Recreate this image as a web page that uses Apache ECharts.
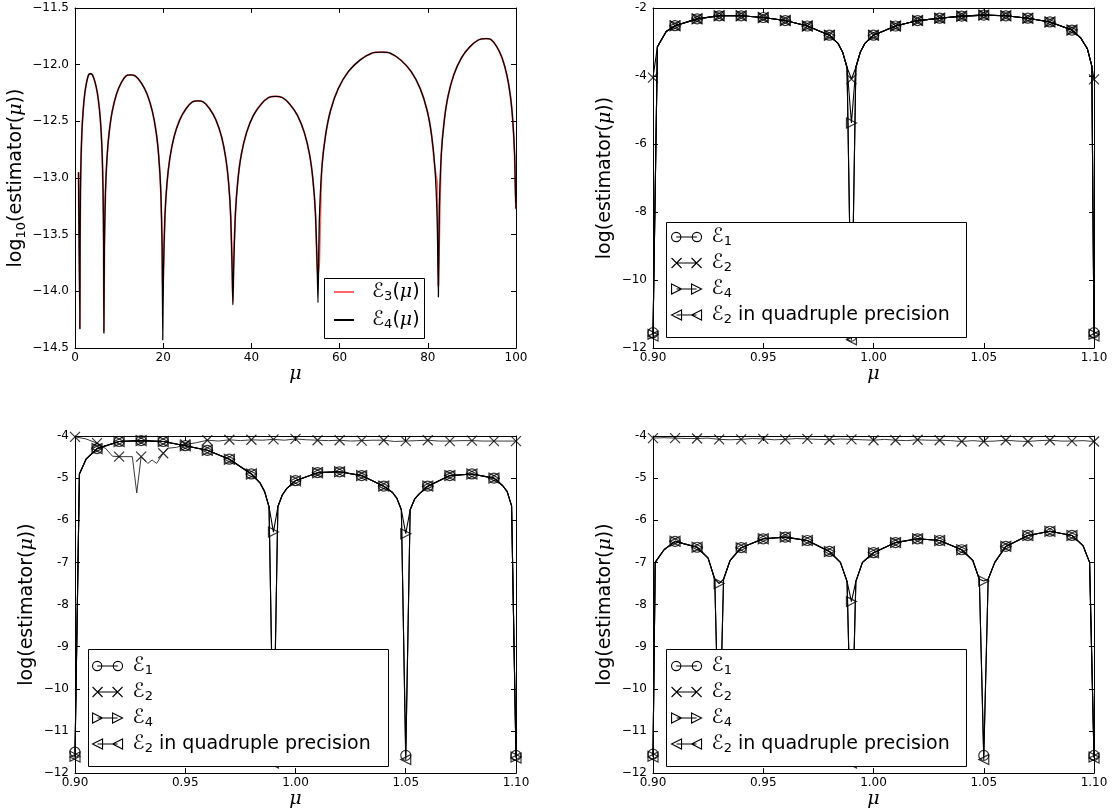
<!DOCTYPE html>
<html>
<head>
<meta charset="utf-8">
<script src="https://cdn.jsdelivr.net/npm/echarts@6/dist/echarts.min.js"></script>
<style>
  html, body { margin: 0; background: #fff; }
  #chart { width: 1112px; height: 810px; }
</style>
</head>
<body>
<div id="chart"></div>
<script>
// ---- plot 1 : log10 estimator over mu in [0,100]
const p1Mu = [0.8, 1.1,
  1.15,1.24,1.38,1.57,1.86,2.23,2.66,3.08,3.46,3.95,4.51,5.07,5.56,5.93,6.18,6.36,6.49, 6.55,
  6.67,6.91,7.26,7.74,8.45,9.41,10.48,11.55,12.5,13.68,15.02,16.35,17.53,18.42,19.01,19.46,19.75, 19.9,
  20.06,20.38,20.85,21.49,22.44,23.72,25.15,26.58,27.85,29.12,30.55,31.98,33.26,34.21,34.85,35.32,35.64, 35.8,
  35.99,36.38,36.96,37.73,38.89,40.43,42.17,43.91,45.45,46.99,48.73,50.47,52.01,53.17,53.94,54.52,54.91, 55.1,
  55.39,55.96,56.83,57.98,59.71,62.01,64.60,67.20,69.5,71.56,73.89,76.21,78.27,79.82,80.85,81.63,82.14, 82.4,
  82.62,83.05,83.71,84.58,85.89,87.63,89.59,91.56,93.3,94.39,95.61,96.84,97.92,98.74,99.28,99.69,99.96, 100];
const p1E4 = [-12.95, -14.33,
  -13.58,-13.11,-12.81,-12.59,-12.40,-12.25,-12.15,-12.09,-12.08,-12.09,-12.15,-12.25,-12.40,-12.59,-12.81,-13.11,-13.58, -14.37,
  -13.59,-13.12,-12.82,-12.60,-12.41,-12.26,-12.16,-12.10,-12.09,-12.10,-12.16,-12.26,-12.41,-12.60,-12.82,-13.12,-13.59, -14.43,
  -13.82,-13.35,-13.05,-12.83,-12.64,-12.49,-12.39,-12.33,-12.32,-12.33,-12.39,-12.49,-12.64,-12.83,-13.05,-13.35,-13.82, -14.12,
  -13.78,-13.31,-13.01,-12.79,-12.60,-12.45,-12.35,-12.29,-12.28,-12.29,-12.35,-12.45,-12.60,-12.79,-13.01,-13.31,-13.78, -14.10,
  -13.39,-12.92,-12.62,-12.40,-12.21,-12.06,-11.96,-11.90,-11.89,-11.90,-11.96,-12.06,-12.21,-12.40,-12.62,-12.92,-13.39, -14.05,
  -13.27,-12.80,-12.50,-12.28,-12.09,-11.94,-11.84,-11.78,-11.77,-11.78,-11.84,-11.94,-12.09,-12.28,-12.50,-12.80,-13.27, -13.10];
const p1E3 = [-12.95, -14.33,
  -13.58,-13.11,-12.81,-12.59,-12.40,-12.25,-12.15,-12.09,-12.08,-12.09,-12.15,-12.25,-12.40,-12.59,-12.81,-13.11,-13.58, -14.35,
  -13.59,-13.12,-12.82,-12.60,-12.41,-12.26,-12.16,-12.10,-12.09,-12.10,-12.16,-12.26,-12.41,-12.60,-12.82,-13.12,-13.59, -14.05,
  -13.82,-13.35,-13.05,-12.83,-12.64,-12.49,-12.39,-12.33,-12.32,-12.33,-12.39,-12.49,-12.64,-12.83,-13.05,-13.35,-13.82, -14.10,
  -13.70,-13.31,-13.01,-12.79,-12.60,-12.45,-12.35,-12.29,-12.28,-12.29,-12.35,-12.45,-12.60,-12.79,-13.01,-13.31,-13.78, -13.85,
  -13.75,-12.92,-12.62,-12.40,-12.21,-12.06,-11.96,-11.90,-11.89,-11.90,-11.96,-12.06,-12.21,-12.40,-12.62,-12.92,-13.05, -13.95,
  -13.50,-12.80,-12.50,-12.28,-12.09,-11.94,-11.84,-11.78,-11.77,-11.78,-11.84,-11.94,-12.09,-12.28,-12.50,-12.80,-13.27, -13.15];

// ---- plot 2
const p2Mu = [0.900,0.902,0.906,0.91,0.92,0.93,0.94,0.95,0.96,0.97,0.98,0.984,0.986,0.988,0.99,0.992,0.994,0.996,
  1.00,1.01,1.02,1.03,1.04,1.05,1.06,1.07,1.08,1.09,1.094,1.097,1.099,1.10];
const p2E1 = [-11.55,-3.14,-2.69,-2.52,-2.32,-2.23,-2.23,-2.28,-2.37,-2.53,-2.80,-3.05,-3.30,-3.75,-11.65,-3.75,-3.30,-3.05,
  -2.80,-2.53,-2.37,-2.30,-2.24,-2.21,-2.23,-2.30,-2.41,-2.65,-2.88,-3.20,-3.70,-11.55];
const p2E2 = [-4.05,-3.14,-2.69,-2.52,-2.32,-2.23,-2.23,-2.28,-2.37,-2.53,-2.80,-3.05,-3.30,-3.75,-4.09,-3.75,-3.30,-3.05,
  -2.80,-2.53,-2.37,-2.30,-2.24,-2.21,-2.23,-2.30,-2.41,-2.65,-2.88,-3.20,-3.70,-4.10];
const p2E4 = [-11.60,-3.14,-2.69,-2.52,-2.32,-2.23,-2.23,-2.28,-2.37,-2.53,-2.80,-3.05,-3.30,-3.75,-5.38,-3.75,-3.30,-3.05,
  -2.80,-2.53,-2.37,-2.30,-2.24,-2.21,-2.23,-2.30,-2.41,-2.65,-2.88,-3.20,-3.70,-11.60];
const p2Q = [-11.65,-3.14,-2.69,-2.52,-2.32,-2.23,-2.23,-2.28,-2.37,-2.53,-2.80,-3.05,-3.30,-3.75,-11.76,-3.75,-3.30,-3.05,
  -2.80,-2.53,-2.37,-2.30,-2.24,-2.21,-2.23,-2.30,-2.41,-2.65,-2.88,-3.20,-3.70,-11.65];

// ---- plot 3
const p3Mu = [0.900,0.902,0.905,0.91,0.92,0.93,0.94,0.95,0.96,0.97,0.98,0.984,0.986,0.988,0.99,0.992,0.994,0.996,
  1.00,1.01,1.02,1.03,1.04,1.044,1.046,1.048,1.05,1.052,1.054,1.056,1.06,1.07,1.08,1.09,1.094,1.096,1.098,1.10];
const p3E1 = [-11.50,-4.90,-4.55,-4.30,-4.13,-4.11,-4.13,-4.23,-4.34,-4.55,-4.90,-5.12,-5.32,-5.68,-11.60,-5.68,-5.40,-5.25,
  -5.06,-4.87,-4.85,-4.94,-5.19,-5.34,-5.48,-5.75,-11.58,-5.75,-5.50,-5.38,-5.19,-4.94,-4.90,-5.00,-5.18,-5.32,-5.66,-11.58];
const p3E4 = [-11.60,-4.90,-4.55,-4.30,-4.13,-4.11,-4.13,-4.23,-4.34,-4.55,-4.90,-5.12,-5.32,-5.68,-6.28,-5.68,-5.40,-5.25,
  -5.06,-4.87,-4.85,-4.94,-5.19,-5.34,-5.48,-5.75,-6.32,-5.75,-5.50,-5.38,-5.19,-4.94,-4.90,-5.00,-5.18,-5.32,-5.66,-11.62];
const p3Q = [-11.62,-4.90,-4.55,-4.30,-4.13,-4.11,-4.13,-4.23,-4.34,-4.55,-4.90,-5.12,-5.32,-5.68,-11.76,-5.68,-5.40,-5.25,
  -5.06,-4.87,-4.85,-4.94,-5.19,-5.34,-5.48,-5.75,-11.68,-5.75,-5.50,-5.38,-5.19,-4.94,-4.90,-5.00,-5.18,-5.32,-5.66,-11.64];
const p3E2Mu = [0.900,0.905,0.91,0.914,0.917,0.92,0.926,0.928,0.93,0.933,0.935,0.937,0.94,0.942,0.946,0.95,0.955,0.96,
  0.965,0.97,0.975,0.98,0.985,0.99,0.995,1.00,1.005,1.01,1.015,1.02,1.025,1.03,1.035,1.04,1.045,1.05,1.055,1.06,
  1.065,1.07,1.075,1.08,1.085,1.09,1.095,1.10];
const p3E2 = [-4.02,-4.07,-4.17,-4.30,-4.48,-4.49,-4.49,-5.35,-4.49,-4.65,-4.57,-4.65,-4.41,-4.29,-4.27,-4.20,-4.16,-4.10,
  -4.12,-4.09,-4.11,-4.09,-4.10,-4.08,-4.10,-4.07,-4.09,-4.10,-4.11,-4.10,-4.12,-4.11,-4.10,-4.10,-4.13,-4.12,-4.11,-4.10,
  -4.12,-4.12,-4.11,-4.11,-4.12,-4.12,-4.12,-4.12];

// ---- plot 4
const p4Mu = [0.900,0.901,0.905,0.91,0.92,0.925,0.928,0.93,0.932,0.935,0.94,0.95,0.96,0.97,0.98,0.985,0.988,0.99,0.992,0.995,
  1.00,1.01,1.02,1.03,1.04,1.045,1.048,1.05,1.052,1.055,1.06,1.07,1.08,1.09,1.095,1.098,1.10];
const p4E1 = [-11.55,-7.00,-6.70,-6.50,-6.64,-6.90,-7.40,-11.60,-7.40,-6.95,-6.65,-6.44,-6.40,-6.48,-6.74,-7.00,-7.45,-11.60,-7.45,-7.00,
  -6.77,-6.53,-6.44,-6.48,-6.70,-6.95,-7.40,-11.58,-7.40,-7.00,-6.62,-6.36,-6.26,-6.36,-6.60,-7.00,-11.58];
const p4E4 = [-11.60,-7.00,-6.70,-6.50,-6.64,-6.90,-7.40,-7.50,-7.40,-6.95,-6.65,-6.44,-6.40,-6.48,-6.74,-7.00,-7.45,-7.93,-7.45,-7.00,
  -6.77,-6.53,-6.44,-6.48,-6.70,-6.95,-7.40,-7.44,-7.40,-7.00,-6.62,-6.36,-6.26,-6.36,-6.60,-7.00,-11.62];
const p4Q = [-11.62,-7.00,-6.70,-6.50,-6.64,-6.90,-7.40,-11.70,-7.40,-6.95,-6.65,-6.44,-6.40,-6.48,-6.74,-7.00,-7.45,-11.76,-7.45,-7.00,
  -6.77,-6.53,-6.44,-6.48,-6.70,-6.95,-7.40,-11.68,-7.40,-7.00,-6.62,-6.36,-6.26,-6.36,-6.60,-7.00,-11.64];
const p4E2Mu = [0.900,0.905,0.91,0.915,0.92,0.925,0.93,0.935,0.94,0.945,0.95,0.955,0.96,0.965,0.97,0.975,0.98,0.985,0.99,0.995,
  1.00,1.005,1.01,1.015,1.02,1.025,1.03,1.035,1.04,1.045,1.05,1.055,1.06,1.065,1.07,1.075,1.08,1.085,1.09,1.095,1.10];
const p4E2 = [-4.05,-4.04,-4.05,-4.06,-4.06,-4.05,-4.08,-4.09,-4.08,-4.06,-4.07,-4.09,-4.08,-4.06,-4.07,-4.08,-4.09,-4.07,-4.08,-4.09,
  -4.10,-4.08,-4.10,-4.11,-4.09,-4.10,-4.10,-4.11,-4.13,-4.11,-4.13,-4.12,-4.10,-4.12,-4.13,-4.11,-4.10,-4.12,-4.12,-4.11,-4.13];

// ---------------------------------------------------------------
function pairs(xs, ys) { return xs.map((x, i) => [x, ys[i]]); }
// markers only every 0.01 (markevery)
function marks(xs, ys) {
  return pairs(xs, ys).filter(p => Math.abs(p[0] * 100 - Math.round(p[0] * 100)) < 1e-6);
}

const grids = [
  { left: 75, top: 8, width: 441, height: 340 },
  { left: 653, top: 8, width: 441, height: 340 },
  { left: 75, top: 436, width: 441, height: 340 },
  { left: 653, top: 436, width: 441, height: 340 }
];

const font = "DejaVu Sans";
const nameRich = {
  n: { fontSize: 19, fontFamily: font, color: "#000", lineHeight: 24 },
  s: { fontSize: 13, fontFamily: font, color: "#000", lineHeight: 14, verticalAlign: "bottom" },
  i: { fontSize: 19, fontFamily: "DejaVu Serif", fontStyle: "italic", color: "#000", lineHeight: 24 }
};

const fmtY1 = v => "\u2212" + Math.abs(v).toFixed(1);
const fmtY = v => (Math.abs(v) >= 10 ? "\u2212" : "-") + Math.abs(v);
const fmtMu = v => v.toFixed(2);

const xAxes = [], yAxes = [];
function addAxes(g, xr, yr, xfmt, yfmt, yName, yGap) {
  const line = { show: true, onZero: false, lineStyle: { color: "#000", width: 1 } };
  const tick = { show: true, inside: true, length: 5, lineStyle: { color: "#000" } };
  const lab = { color: "#000", fontSize: 12, fontFamily: font };
  xAxes.push({
    type: "value", gridIndex: g, position: "bottom", min: xr[0], max: xr[1], interval: xr[2],
    axisLine: line, axisTick: tick, splitLine: { show: false },
    axisLabel: Object.assign({ margin: 4, formatter: xfmt }, lab),
    name: "μ", nameLocation: "middle", nameGap: 14,
    nameTextStyle: { fontSize: 19, fontFamily: "DejaVu Serif", fontStyle: "italic", color: "#000" }
  });
  xAxes.push({
    type: "value", gridIndex: g, position: "top", min: xr[0], max: xr[1], interval: xr[2],
    axisLine: line, axisTick: tick, splitLine: { show: false }, axisLabel: { show: false }
  });
  yAxes.push({
    type: "value", gridIndex: g, position: "left", min: yr[0], max: yr[1], interval: yr[2],
    axisLine: line, axisTick: tick, splitLine: { show: false },
    axisLabel: Object.assign({ margin: 6, formatter: yfmt }, lab),
    name: yName, nameLocation: "middle", nameGap: yGap,
    nameTextStyle: { rich: nameRich }
  });
  yAxes.push({
    type: "value", gridIndex: g, position: "right", min: yr[0], max: yr[1], interval: yr[2],
    axisLine: line, axisTick: tick, splitLine: { show: false }, axisLabel: { show: false }
  });
}

addAxes(0, [0, 100, 20], [-14.5, -11.5, 0.5], v => String(v), fmtY1,
  "{n|log}{s|10}{n|(estimator(}{i|μ}{n|))}", 46);
addAxes(1, [0.9, 1.1, 0.05], [-12, -2, 2], fmtMu, fmtY, "{n|log(estimator(}{i|μ}{n|))}", 36);
addAxes(2, [0.9, 1.1, 0.05], [-12, -4, 1], fmtMu, fmtY, "{n|log(estimator(}{i|μ}{n|))}", 36);
addAxes(3, [0.9, 1.1, 0.05], [-12, -4, 1], fmtMu, fmtY, "{n|log(estimator(}{i|μ}{n|))}", 36);

const syms = {
  E1: "circle",
  E2: "path://M0,0L10,10M10,0L0,10",
  E4: "path://M0,0L10,5L0,10Z",
  E2q: "path://M10,0L0,5L10,10Z"
};
const icons = {
  E1: "path://M0.5,5A4.5,4.5,0,1,1,9.5,5A4.5,4.5,0,1,1,0.5,5ZM5,5L25,5M20.5,5A4.5,4.5,0,1,1,29.5,5A4.5,4.5,0,1,1,20.5,5Z",
  E2: "path://M0,0L10,10M10,0L0,10M5,5L25,5M20,0L30,10M30,0L20,10",
  E4: "path://M0,0L10,5L0,10ZM5,5L25,5M20,0L30,5L20,10Z",
  E2q: "path://M10,0L0,5L10,10ZM5,5L25,5M30,0L20,5L30,10Z"
};

const series = [];
series.push({
  type: "line", name: "E3c", xAxisIndex: 0, yAxisIndex: 0, data: pairs(p1Mu, p1E3),
  symbol: "none", showSymbol: false, animation: false, smooth: 0.2,
  itemStyle: { color: "rgba(255,0,0,0.6)" }, lineStyle: { color: "rgba(255,0,0,0.6)", width: 1.8 }
});
series.push({
  type: "line", name: "E4c", xAxisIndex: 0, yAxisIndex: 0, data: pairs(p1Mu, p1E4),
  symbol: "none", showSymbol: false, animation: false, smooth: 0.2,
  itemStyle: { color: "#000" }, lineStyle: { color: "#000", width: 1.3 }
});

function addPlot(g, sets) {
  sets.forEach(s => {
    series.push({
      type: "line", name: s.name, xAxisIndex: 2 * g, yAxisIndex: 2 * g, data: pairs(s.xs, s.ys),
      symbol: "none", showSymbol: false, animation: false, z: 2,
      itemStyle: { color: "#000" }, lineStyle: { color: s.c || "#000", width: s.w || 1.1 }
    });
  });
  sets.forEach(s => {
    series.push({
      type: "scatter", name: s.name, xAxisIndex: 2 * g, yAxisIndex: 2 * g, data: marks(s.xs, s.ys),
      symbol: syms[s.name], symbolSize: 10, animation: false, z: 3,
      itemStyle: { color: "rgba(0,0,0,0)", borderColor: "#000", borderWidth: 1.2 }
    });
  });
}

addPlot(1, [
  { name: "E1", xs: p2Mu, ys: p2E1 },
  { name: "E2", xs: p2Mu, ys: p2E2 },
  { name: "E4", xs: p2Mu, ys: p2E4 },
  { name: "E2q", xs: p2Mu, ys: p2Q }
]);
addPlot(2, [
  { name: "E1", xs: p3Mu, ys: p3E1 },
  { name: "E2", xs: p3E2Mu, ys: p3E2, w: 0.9, c: "#222" },
  { name: "E4", xs: p3Mu, ys: p3E4 },
  { name: "E2q", xs: p3Mu, ys: p3Q }
]);
addPlot(3, [
  { name: "E1", xs: p4Mu, ys: p4E1 },
  { name: "E2", xs: p4E2Mu, ys: p4E2, w: 0.9, c: "#222" },
  { name: "E4", xs: p4Mu, ys: p4E4 },
  { name: "E2q", xs: p4Mu, ys: p4Q }
]);

const legLabels = {
  E1: "{e|ℰ}{s|1}",
  E2: "{e|ℰ}{s|2}",
  E4: "{e|ℰ}{s|4}",
  E2q: "{e|ℰ}{s|2}{t| in quadruple precision}",
  E3c: "{e|ℰ}{s|3}{t|(}{i|μ}{t|)}",
  E4c: "{e|ℰ}{s|4}{t|(}{i|μ}{t|)}"
};
function legRich(gap) {
  return {
    e: { fontSize: 20, fontFamily: font, color: "#000", lineHeight: 22, padding: [0, 0, 0, gap] },
    s: { fontSize: 13, fontFamily: font, color: "#000", lineHeight: 13, verticalAlign: "bottom" },
    t: { fontSize: 19, fontFamily: font, color: "#000", lineHeight: 22 },
    i: { fontSize: 19, fontFamily: "DejaVu Serif", fontStyle: "italic", color: "#000", lineHeight: 22 }
  };
}
function markerLegend(left, top) {
  return {
    orient: "vertical", left: left, top: top, padding: 0, itemGap: 5, z: 6,
    itemWidth: 30, itemHeight: 10, selectedMode: false,
    itemStyle: { color: "rgba(0,0,0,0)", borderColor: "#000", borderWidth: 1.1 },
    data: ["E1", "E2", "E4", "E2q"].map(n => ({ name: n, icon: icons[n] })),
    formatter: n => legLabels[n],
    textStyle: { rich: legRich(5) }
  };
}

const legends = [
  {
    orient: "vertical", left: 334, top: 282, padding: 0, itemGap: 7, z: 6,
    itemWidth: 20, itemHeight: 2, selectedMode: false, icon: "rect",
    itemStyle: { borderWidth: 0 },
    data: ["E3c", "E4c"],
    formatter: n => legLabels[n],
    textStyle: { rich: legRich(13) }
  },
  markerLegend(671, 227),
  markerLegend(92, 656),
  markerLegend(671, 656)
];

const boxStyle = { fill: "#fff", stroke: "#000", lineWidth: 1 };
const graphics = [
  { type: "rect", z: 4, shape: { x: 324.5, y: 278.5, width: 100, height: 60 }, style: boxStyle },
  { type: "rect", z: 4, shape: { x: 666.5, y: 222.5, width: 300, height: 115 }, style: boxStyle },
  { type: "rect", z: 4, shape: { x: 88.5, y: 649.5, width: 300, height: 117 }, style: boxStyle },
  { type: "rect", z: 4, shape: { x: 666.5, y: 649.5, width: 300, height: 117 }, style: boxStyle }
];

const chart = echarts.init(document.getElementById("chart"));
chart.setOption({
  backgroundColor: "#fff",
  animation: false,
  grid: grids,
  xAxis: xAxes,
  yAxis: yAxes,
  legend: legends,
  graphic: graphics,
  series: series
});
</script>
</body>
</html>
